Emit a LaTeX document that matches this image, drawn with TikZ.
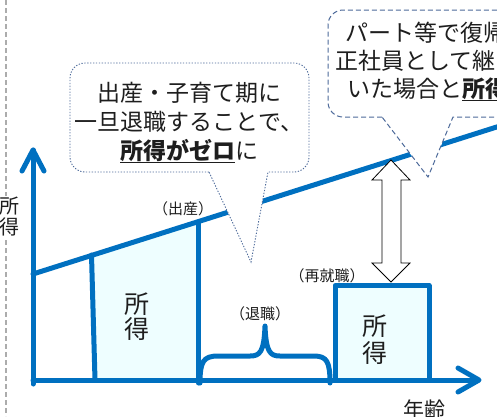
\documentclass[tikz,border=0pt]{standalone}
\usepackage{fontspec}
\setmainfont{Noto Sans CJK JP}
\definecolor{myblue}{HTML}{0070C0}
\definecolor{incfill}{HTML}{EEFEFF}
\definecolor{callline}{HTML}{4D6A9A}
\definecolor{txt}{HTML}{1E1E1E}
\begin{document}
\begin{tikzpicture}[x=1pt,y=-1pt,
  bl/.style={draw=myblue,line width=5pt,line cap=round,line join=round},
  callone/.style={draw=callline,fill=white,line width=0.9pt,dash pattern=on 1.3pt off 1.6pt},
  calltwo/.style={draw=callline,fill=white,line width=1pt,dash pattern=on 5pt off 3pt},
  big/.style={text=txt,inner sep=0pt,font=\fontsize{23}{28}\selectfont},
  small/.style={text=txt,inner sep=0pt,font=\fontsize{15}{16}\selectfont},
  inc/.style={text=txt,inner sep=0pt,font=\fontsize{25}{26}\selectfont}]
\useasboundingbox (0,0) rectangle (497,416);
\clip (0,0) rectangle (497,416);
% gray dashed separator
\draw[gray!65,line width=2pt,dash pattern=on 5pt off 3pt] (6,0) -- (6,416);
\node[fill=white,inner sep=1pt,align=center,text=txt,font=\fontsize{20}{21}\selectfont] (ylab) at (9,217) {所\\得};
% coordinates
\coordinate (o) at (33,380);
\coordinate (ytip) at (33,150);
\coordinate (xtip) at (479,380);
\coordinate (s0) at (33,274);
\coordinate (s1) at (520,119.6);
% income fills
\fill[incfill] (92,255) -- (198.5,222) -- (198.5,380) -- (95,380) -- cycle;
\fill[incfill] (335,285.5) rectangle (429,380);
% lines
\draw[bl] (s0) -- (s1);
\draw[bl] (91.5,255) -- (95,380);
\draw[bl] (198.5,222) -- (198.5,383);
\draw[bl] (335,380) -- (335,285.5) -- (429,285.5) -- (429,380);
% axes
\draw[bl] (33,384) -- (ytip);
\draw[bl] (22,171) -- (ytip) -- (44,171);
\draw[bl] (o) -- (478,380);
\draw[bl] (458,368) -- (xtip) -- (458,392);
% brace
\draw[bl] (200,383) .. controls (200,362) and (203,356) .. (218,356) -- (250,356)
  .. controls (260,356) and (264,352) .. (265,326)
  .. controls (266,352) and (270,356) .. (280,356) -- (314,356)
  .. controls (327,356) and (330,362) .. (330,383);
% callouts
\draw[callone] (209,172) [rounded corners=15pt] -- (70,172) -- (70,63) -- (309,63) -- (309,172) [sharp corners] -- (268,172) -- (251,262) -- cycle;
\draw[calltwo] (382,117) [rounded corners=15pt] -- (328,117) -- (328,10) -- (570,10) -- (570,117) [sharp corners] -- (453,117) -- (428,177) -- cycle;
% double arrow
\draw[black,fill=white,line width=0.8pt] (391,160) -- (410,180) -- (401,180) -- (401,263) -- (410,263) -- (391,282) -- (372,263) -- (382,263) -- (382,180) -- (372,180) -- cycle;
% callout texts
\node[big,anchor=base] (c1a) at (189,101) {出産・子育て期に};
\node[big,anchor=base] (c1b) at (189,130) {一旦退職することで、};
\node[big,anchor=base] (c1c) at (189,159) {\underline{\textbf{所得がゼロ}}に};
\node[big,anchor=base west] (c2a) at (345,41) {パート等で復帰};
\node[big,anchor=base west] (c2b) at (335,69) {正社員として継};
\node[big,anchor=base west] (c2c) at (347,97) {いた場合と\underline{\textbf{所得}}};
% labels
\node[small,anchor=base] (l1) at (183,214) {（出産）};
\node[small,anchor=base] (l2) at (327,281) {（再就職）};
\node[small,anchor=base] (l3) at (260,319) {（退職）};
\node[inc,anchor=base] (i1a) at (137,313) {所};
\node[inc,anchor=base] (i1b) at (137,338) {得};
\node[inc,anchor=base] (i2a) at (375,335) {所};
\node[inc,anchor=base] (i2b) at (375,362) {得};
\node[text=txt,inner sep=0pt,anchor=base,font=\fontsize{21}{22}\selectfont] (xlab) at (424,417) {年齢};
\end{tikzpicture}
\end{document}
